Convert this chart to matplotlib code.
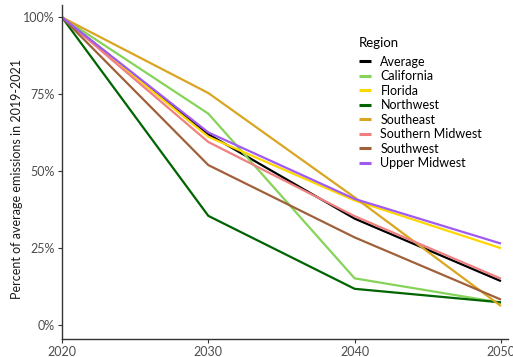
import matplotlib.pyplot as plt
from matplotlib.ticker import FuncFormatter

plt.rcParams['font.family'] = ['Lato', 'DejaVu Sans']

years = [2020, 2030, 2040, 2050]
regions = ['Average', 'California', 'Florida', 'Northwest', 'Southeast',
           'Southern Midwest', 'Southwest', 'Upper Midwest']
colors = ['#000000', '#86D35A', '#FFD700', '#006400', '#DAA520',
          '#F08080', '#A0613A', '#A05AF2']

# share of 2019-2021 average emissions, per region
average = [1.00, 0.62, 0.346, 0.143]
california = [1.00, 0.687, 0.152, 0.073]
florida = [1.00, 0.612, 0.405, 0.25]
northwest = [1.00, 0.355, 0.118, 0.074]
southeast = [1.00, 0.754, 0.415, 0.062]
southern_midwest = [1.00, 0.595, 0.354, 0.151]
southwest = [1.00, 0.52, 0.285, 0.083]
upper_midwest = [1.00, 0.626, 0.41, 0.265]

series = [average, california, florida, northwest, southeast,
          southern_midwest, southwest, upper_midwest]

fig = plt.figure(figsize=(5.13, 3.57), dpi=100)
ax = fig.add_axes([62 / 513, 18 / 357, 446 / 513, 334 / 357])

for name, vals, col in zip(regions, series, colors):
    ax.plot(years, vals, color=col, lw=1.6, label=name, solid_capstyle='butt')

ax.set_xlim(2020, 2050.48)
ax.set_ylim(-0.045, 1.04)
ax.set_xticks([2020, 2030, 2040, 2050])
ax.set_yticks([0, 0.25, 0.5, 0.75, 1.0])
ax.yaxis.set_major_formatter(FuncFormatter(lambda v, p: f'{int(round(v * 100))}%'))

for s in ['top', 'right']:
    ax.spines[s].set_visible(False)
for s in ['left', 'bottom']:
    ax.spines[s].set_color('#333333')
    ax.spines[s].set_linewidth(1.0)
ax.tick_params(colors='#333333', labelcolor='#4D4D4D', labelsize=9,
               length=3, width=0.8, pad=2)
for lab in ax.get_xticklabels():
    lab.set_clip_on(False)

ax.set_ylabel('Percent of average emissions in 2019-2021', fontsize=9,
              color='#1A1A1A')
ax.yaxis.set_label_coords(-0.088, 0.48)

leg = ax.legend(title='Region', loc='upper left', bbox_to_anchor=(0.655, 0.92),
                frameon=False, fontsize=9, title_fontsize=9.5,
                handlelength=0.95, handletextpad=0.75, labelspacing=0.2,
                alignment='left', borderaxespad=0)
leg._legend_box.sep = 5
for line in leg.get_lines():
    line.set_linewidth(2.2)

fig.savefig('out.png', dpi=100)
